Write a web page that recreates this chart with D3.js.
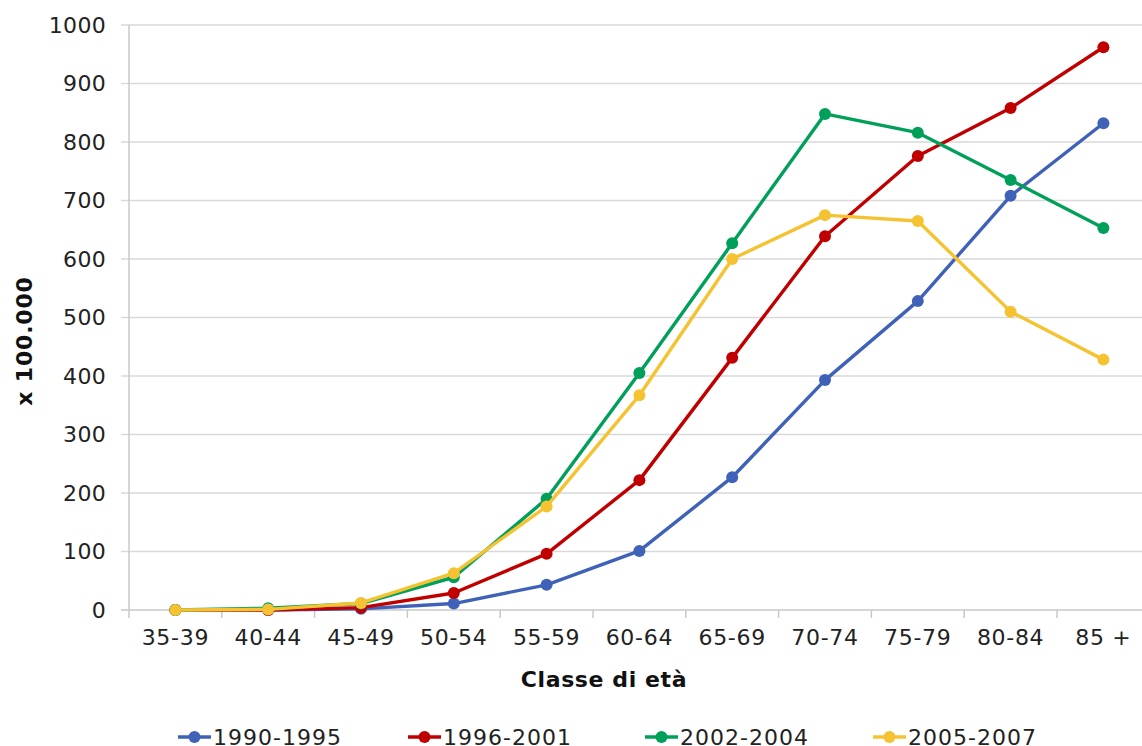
<!DOCTYPE html>
<html><head><meta charset="utf-8">
<script src="https://cdn.jsdelivr.net/npm/d3@7"></script>
<style>body{margin:0;background:#fff}svg{display:block}</style>
</head><body>
<svg id="c" width="1142" height="746"></svg>
<script>
const categories = ["35-39","40-44","45-49","50-54","55-59","60-64","65-69","70-74","75-79","80-84","85 +"];
const seriesNames = ["1990-1995","1996-2001","2002-2004","2005-2007"];
const s1990 = [0, 0, 2, 11, 43, 101, 227, 393, 528, 708, 832];
const s1996 = [0, 0, 4, 29, 96, 222, 431, 639, 776, 858, 962];
const s2002 = [0, 3, 11, 56, 190, 405, 627, 848, 816, 735, 653];
const s2005 = [0, 1, 12, 63, 177, 367, 600, 675, 665, 510, 428];
const yTicks = [0,100,200,300,400,500,600,700,800,900,1000];
const colors = ["#3F62B8","#C00000","#00A05A","#F5C332"];
const seriesData = [s1990, s1996, s2002, s2005];

const svg = d3.select("#c");
const font = "DejaVu Sans, Verdana, sans-serif";
const pLeft = 129, pTop = 25, pBottom = 610, bandW = 92.8;
const pRight = pLeft + bandW * categories.length;

const x = d3.scaleBand().domain(categories).range([pLeft, pRight]).paddingInner(0).paddingOuter(0);
const y = d3.scaleLinear().domain([0, 1000]).range([pBottom, pTop]);

// gridlines
svg.append("g").selectAll("line").data(yTicks).join("line")
  .attr("x1", pLeft - 8).attr("x2", 1142)
  .attr("y1", d => y(d)).attr("y2", d => y(d))
  .attr("stroke", d => d === 0 ? "#c8c8c8" : "#d9d9d9").attr("stroke-width", 1.5);

// y axis line
svg.append("line").attr("x1", pLeft).attr("x2", pLeft).attr("y1", pTop).attr("y2", pBottom + 8)
  .attr("stroke", "#c8c8c8").attr("stroke-width", 1.5);

// x ticks at category boundaries
svg.append("g").selectAll("line").data(categories.slice(1)).join("line")
  .attr("x1", d => x(d)).attr("x2", d => x(d))
  .attr("y1", pBottom).attr("y2", pBottom + 8)
  .attr("stroke", "#c8c8c8").attr("stroke-width", 1.5);

// y tick labels
svg.append("g").selectAll("text").data(yTicks).join("text")
  .attr("x", 106).attr("y", d => y(d)).attr("dy", "0.36em")
  .attr("text-anchor", "end").attr("font-family", font).attr("font-size", 22).attr("fill", "#222")
  .attr("letter-spacing", 0.3)
  .text(d => d);

// x tick labels
svg.append("g").selectAll("text").data(categories).join("text")
  .attr("x", d => x(d) + x.bandwidth() / 2).attr("y", 645)
  .attr("text-anchor", "middle").attr("font-family", font).attr("font-size", 22).attr("fill", "#222")
  .attr("letter-spacing", 0.7)
  .text(d => d);

// axis titles
svg.append("text").attr("x", 604).attr("y", 687).attr("text-anchor", "middle")
  .attr("font-family", font).attr("font-size", 22).attr("font-weight", "bold").attr("fill", "#111")
  .attr("letter-spacing", 0.6)
  .text("Classe di età");
svg.append("text").attr("transform", "translate(32,341) rotate(-90)").attr("text-anchor", "middle")
  .attr("font-family", font).attr("font-size", 22).attr("font-weight", "bold").attr("fill", "#111")
  .attr("letter-spacing", 0.8)
  .text("x 100.000");

// lines
const line = d3.line().x((d, i) => x(categories[i]) + x.bandwidth() / 2).y(d => y(d));
seriesData.forEach((arr, si) => {
  const g = svg.append("g");
  g.append("path").datum(arr).attr("d", line).attr("fill", "none")
    .attr("stroke", colors[si]).attr("stroke-width", 3.4).attr("stroke-linejoin", "round");
  g.selectAll("circle").data(arr).join("circle")
    .attr("cx", (d, i) => x(categories[i]) + x.bandwidth() / 2).attr("cy", d => y(d))
    .attr("r", 6).attr("fill", colors[si]);
});

// legend
const legX = [178, 408, 645, 873];
seriesNames.forEach((n, i) => {
  const g = svg.append("g").attr("transform", `translate(${legX[i]},737)`);
  g.append("line").attr("x1", 0).attr("x2", 33).attr("y1", 0).attr("y2", 0)
    .attr("stroke", colors[i]).attr("stroke-width", 3.4);
  g.append("circle").attr("cx", 16.5).attr("cy", 0).attr("r", 6).attr("fill", colors[i]);
  g.append("text").attr("x", 35).attr("y", 0).attr("dy", "0.36em")
    .attr("font-family", font).attr("font-size", 22).attr("fill", "#222")
    .attr("letter-spacing", 1)
    .text(n);
});
</script>
</body></html>
